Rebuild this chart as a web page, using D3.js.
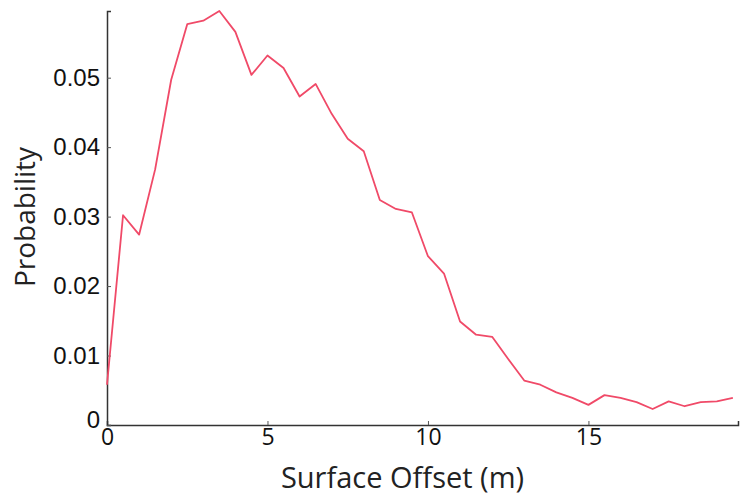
<!DOCTYPE html>
<html>
<head>
<meta charset="utf-8">
<script src="https://cdn.jsdelivr.net/npm/d3@7"></script>
<style>
  body { margin: 0; background: #fff; }
  svg { display: block; }
</style>
</head>
<body>
<div id="chart"></div>
<script>
/////////////////////////////////////////////////
/* Data */
/////////////////////////////////////////////////
const offsets = [0, 0.5, 1, 1.5, 2, 2.5, 3, 3.5, 4, 4.5, 5, 5.5, 6, 6.5, 7, 7.5, 8, 8.5, 9, 9.5,
                 10, 10.5, 11, 11.5, 12, 12.5, 13, 13.5, 14, 14.5, 15, 15.5, 16, 16.5, 17, 17.5, 18, 18.5, 19, 19.5];
const probs = [0.0058, 0.0302, 0.0274, 0.0368, 0.0497, 0.0577, 0.0582, 0.0596, 0.0566, 0.0504,
               0.0532, 0.0514, 0.0473, 0.0491, 0.0448, 0.0412, 0.0394, 0.0324, 0.0311, 0.0306,
               0.0243, 0.0218, 0.0149, 0.0130, 0.0127, 0.0095, 0.0064, 0.0058, 0.0047, 0.0039,
               0.0029, 0.0043, 0.0039, 0.0033, 0.0023, 0.0034, 0.0027, 0.0033, 0.0034, 0.0039];
const xTicks = [0, 5, 10, 15];
const yTicks = [0, 0.01, 0.02, 0.03, 0.04, 0.05];
const xLabel = "Surface Offset (m)";
const yLabel = "Probability";

/////////////////////////////////////////////////
/* Layout */
/////////////////////////////////////////////////
var margin = {top: 11, right: 2, bottom: 72, left: 107},
    width = 740 - margin.left - margin.right,
    height = 497 - margin.top - margin.bottom;

var svg = d3.select("#chart")
  .append("svg")
    .attr("width", 740)
    .attr("height", 497)
  .append("g")
    .attr("transform", "translate(" + margin.left + "," + margin.top + ")");

var x = d3.scaleLinear().domain([0, 19.66]).range([0, width]);
var y = d3.scaleLinear().domain([0, 0.0596]).range([height, 0]);

// x axis (ticks point inward)
var xAxis = svg.append("g")
  .attr("transform", "translate(0," + height + ")")
  .call(d3.axisBottom(x).tickValues(xTicks).tickSize(-4).tickPadding(6).tickFormat(d3.format("d")));

// y axis
var yAxis = svg.append("g")
  .call(d3.axisLeft(y).tickValues(yTicks).tickSize(-4).tickPadding(7)
    .tickFormat(d => d === 0 ? "0" : d3.format(".2f")(d)));

[xAxis, yAxis].forEach(function(a) {
  a.select(".domain").attr("stroke", "#333").attr("stroke-width", 1.5);
  a.selectAll(".tick line").attr("stroke", "#555").attr("stroke-width", 1);
  a.selectAll(".tick text").attr("fill", "#111");
});
yAxis.selectAll(".tick text")
  .style("font-family", "'Liberation Sans', Arial, sans-serif")
  .style("font-size", "24px");
xAxis.selectAll(".tick text")
  .style("font-family", "'Open Sans', sans-serif")
  .style("font-size", "23px")
  .attr("dy", "0.62em");
// the 0 on y axis sits a bit higher as in the picture
yAxis.selectAll(".tick text").filter(d => d === 0).attr("dy", "0.1em");

// line
svg.append("path")
  .datum(offsets.map((d, i) => ({x: d, y: probs[i]})))
  .attr("fill", "none")
  .attr("stroke", "#f04a68")
  .attr("stroke-width", 1.8)
  .attr("stroke-linejoin", "round")
  .attr("d", d3.line().x(d => x(d.x)).y(d => y(d.y)));

// axis labels
svg.append("text")
  .attr("text-anchor", "middle")
  .attr("x", (285 + 520) / 2 - margin.left)
  .attr("y", height + 63)
  .style("font-family", "'Open Sans', sans-serif")
  .style("font-size", "29px")
  .attr("fill", "#222")
  .text(xLabel);

svg.append("text")
  .attr("text-anchor", "middle")
  .attr("transform", "rotate(-90)")
  .attr("x", -(217 - margin.top))
  .attr("y", -margin.left + 35)
  .style("font-family", "'Open Sans', sans-serif")
  .style("font-size", "28px")
  .attr("fill", "#222")
  .text(yLabel);
</script>
</body>
</html>
